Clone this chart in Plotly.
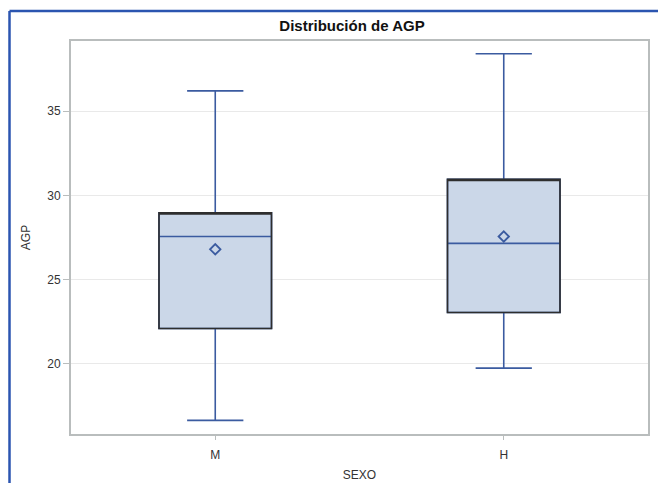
import plotly.graph_objects as go

categories = ["M", "H"]
q1_vals = [22.1, 23.05]
median_vals = [27.56, 27.15]
q3_vals = [28.96, 30.95]
lower_whisker = [16.65, 19.75]
upper_whisker = [36.2, 38.4]
mean_vals = [26.8, 27.56]
y_ticks = [20, 25, 30, 35]

BLUE = "#3B5BA0"
FILL = "#CBD7E8"
DARK = "#2E2E2E"
FRAME = "#B9BDBD"

# the page body offsets the figure by 8px; the figure is kept at 666x484 and
# its plot area is placed so that it lands at the reference's page position.
OFF = 8
W, H = 666, 484
PW, PH = 577, 401
L, T = 71 - OFF, 41 - OFF
R, B = W - L - PW, H - T - PH

fig = go.Figure()

fig.add_trace(go.Box(
    x=categories, q1=q1_vals, median=median_vals, q3=q3_vals,
    lowerfence=lower_whisker, upperfence=upper_whisker,
    fillcolor=FILL, line=dict(color=BLUE, width=1.6),
    width=0.39, whiskerwidth=0.5, showlegend=False, hoverinfo="skip",
))
fig.add_trace(go.Box(
    x=categories, q1=q1_vals, median=q3_vals, q3=q3_vals,
    lowerfence=q1_vals, upperfence=q3_vals,
    fillcolor="rgba(0,0,0,0)", line=dict(color=DARK, width=1.6),
    width=0.39, whiskerwidth=0, showlegend=False, hoverinfo="skip",
))
fig.add_trace(go.Scatter(
    x=categories, y=mean_vals, mode="markers",
    marker=dict(symbol="diamond-open", size=8, color=BLUE, line=dict(width=1.8, color=BLUE)),
    showlegend=False, hoverinfo="skip",
))

axis_font = dict(family="Liberation Sans, Arial, sans-serif", size=12, color="#333333")

border_x = (9.5 - 71) / PW
border_y = 1 + (T + OFF - 10.5) / PH

fig.update_layout(
    width=W, height=H,
    margin=dict(l=L, r=R, t=T, b=B),
    paper_bgcolor="white", plot_bgcolor="white",
    boxmode="overlay",
    title=dict(text="<b>Distribución de AGP</b>", x=(352 - 71) / PW, xref="paper", xanchor="center",
               y=1 - (26 - OFF) / H, yanchor="middle",
               font=dict(family="Liberation Sans, Arial, sans-serif", size=15, color="#111111")),
    xaxis=dict(
        type="category", range=[-0.5, 1.5],
        showline=True, linecolor=FRAME, linewidth=2, mirror=True,
        ticks="outside", ticklen=4, tickcolor=FRAME, tickwidth=1,
        ticklabelstandoff=5,
        showgrid=False, tickfont=axis_font,
        title=dict(text="SEXO", font=axis_font, standoff=9),
    ),
    yaxis=dict(
        range=[15.84, 39.16], tickvals=y_ticks,
        showline=True, linecolor=FRAME, linewidth=2, mirror=True,
        ticks="outside", ticklen=6, tickcolor=FRAME, tickwidth=1,
        showgrid=True, gridcolor="#E9E9E9", gridwidth=1, zeroline=False,
        tickfont=axis_font,
        title=dict(text="AGP", font=axis_font, standoff=14),
    ),
    shapes=[
        dict(type="line", xref="paper", yref="paper",
             x0=border_x, x1=(W - L) / PW,
             y0=border_y, y1=border_y,
             line=dict(color="#2B55B0", width=2.5)),
        dict(type="line", xref="paper", yref="paper",
             x0=border_x, x1=border_x,
             y0=border_y, y1=-B / PH,
             line=dict(color="#2B55B0", width=2.5)),
    ],
)

fig.write_html("out.html", config={"displayModeBar": False})
